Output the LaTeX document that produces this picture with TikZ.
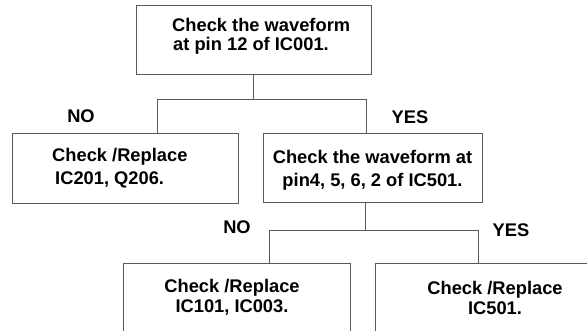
\documentclass[tikz,border=0pt]{standalone}
\usepackage{fontspec}
\setmainfont{Liberation Sans}
\begin{document}
\begin{tikzpicture}[x=1pt,y=-1pt,
  box/.style={draw=black!65,line width=0.9pt,rectangle,inner sep=0pt},
  txt/.style={font=\fontsize{18.3}{23}\bfseries\selectfont,inner sep=0pt,text=black},
  lab/.style={font=\fontsize{18.3}{22}\bfseries\selectfont,inner sep=0pt,text=black},
  wire/.style={draw=black!65,line width=0.9pt}]
\useasboundingbox (0,0) rectangle (587,330);
\clip (0,0) rectangle (587,330);

% boxes
\node[box,minimum width=235pt,minimum height=69pt] (top) at (253.5,39.5) {};
\node[box,minimum width=226pt,minimum height=70pt] (left) at (125,168) {};
\node[box,minimum width=219pt,minimum height=69pt] (right) at (372.5,167.5) {};
\node[box,minimum width=227pt,minimum height=70pt] (bl) at (236.5,298) {};
\node[box,minimum width=240pt,minimum height=70pt] (br) at (495,298) {};

% box texts
\node[txt,align=left,anchor=west,font=\fontsize{18.3}{19}\bfseries\selectfont] (ttop) at (172,36.5) {Check the waveform\\\hspace{1pt}at pin 12 of IC001.};
\node[txt,align=left,anchor=west] (tleft) at (52,168.5) {Check /Replace\\\hspace{3pt}IC201, Q206.};
\node[txt,align=center] (tright) at (372.5,170.5) {Check the waveform at\\pin4, 5, 6, 2 of IC501.};
\node[txt,align=center,font=\fontsize{18.3}{20}\bfseries\selectfont] (tbl) at (232,297) {Check /Replace\\IC101, IC003.};
\node[txt,align=center,font=\fontsize{18.3}{20}\bfseries\selectfont] (tbr) at (495,298) {Check /Replace\\IC501.};

% branch labels
\node[lab] (no1) at (81,116) {NO};
\node[lab] (yes1) at (410,117) {YES};
\node[lab] (no2) at (237,227) {NO};
\node[lab] (yes2) at (511,230) {YES};

% first branch
\coordinate (j1) at (253,99);
\coordinate (l1) at (157,99);
\coordinate (r1) at (366,99);
\draw[wire] (top.south -| j1) -- (j1);
\draw[wire] (l1 |- left.north) -- (l1) -- (r1) -- (r1 |- right.north);

% second branch
\coordinate (j2) at (365,230);
\coordinate (l2) at (269,230);
\coordinate (r2) at (478,230);
\draw[wire] (right.south -| j2) -- (j2);
\draw[wire] (l2 |- bl.north) -- (l2) -- (r2) -- (r2 |- br.north);
\end{tikzpicture}
\end{document}
